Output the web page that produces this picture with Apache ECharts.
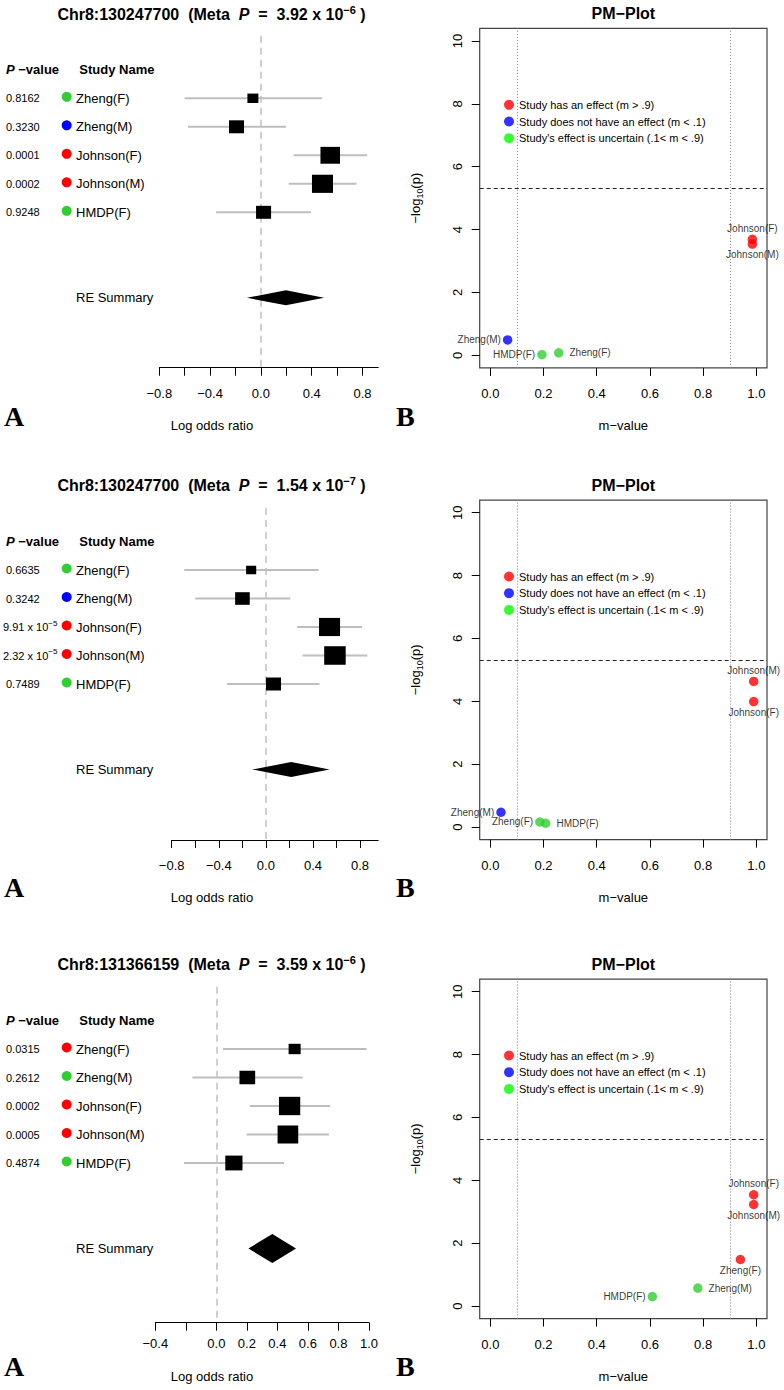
<!DOCTYPE html>
<html><head><meta charset="utf-8">
<script src="https://cdn.jsdelivr.net/npm/echarts@6/dist/echarts.min.js"></script>
<style>html,body{margin:0;padding:0;background:#fff}#c{width:784px;height:1390px}</style>
</head><body><div id="c"></div><script>
// ---------------- DATA ----------------
const studies = ['Zheng(F)', 'Zheng(M)', 'Johnson(F)', 'Johnson(M)', 'HMDP(F)'];

// Panel 1
const snp1 = 'Chr8:130247700';
const metaP1 = '3.92 x 10^-6';
const pLabels1 = ['0.8162', '0.3230', '0.0001', '0.0002', '0.9248'];
const est1 = [-0.063, -0.192, 0.546, 0.485, 0.021];
const ciLow1 = [-0.600, -0.575, 0.257, 0.220, -0.352];
const ciHigh1 = [0.480, 0.197, 0.837, 0.753, 0.394];
const weight1 = [0.51, 0.70, 0.91, 0.98, 0.70];
const reSummary1 = [-0.110, 0.197, 0.498]; // low, est, high
const mValue1 = [0.257, 0.065, 0.985, 0.985, 0.194];
const negLogP1 = [0.08, 0.49, 3.69, 3.54, 0.02];
const forestTicks1 = [-0.8, -0.6, -0.4, -0.2, 0, 0.2, 0.4, 0.6, 0.8];
const forestTickLabels1 = [-0.8, -0.4, 0, 0.4, 0.8];

// Panel 2
const snp2 = 'Chr8:130247700';
const metaP2 = '1.54 x 10^-7';
const pLabels2 = ['0.6635', '0.3242', '9.91 x 10^-5', '2.32 x 10^-5', '0.7489'];
const est2 = [-0.125, -0.199, 0.541, 0.587, 0.065];
const ciLow2 = [-0.693, -0.600, 0.266, 0.312, -0.329];
const ciHigh2 = [0.448, 0.207, 0.817, 0.862, 0.456];
const weight2 = [0.47, 0.68, 0.98, 1.00, 0.70];
const reSummary2 = [-0.114, 0.215, 0.541];
const mValue2 = [0.186, 0.040, 0.990, 0.990, 0.208];
const negLogP2 = [0.16, 0.47, 3.99, 4.63, 0.12];
const forestTicks2 = [-0.8, -0.6, -0.4, -0.2, 0, 0.2, 0.4, 0.6, 0.8];
const forestTickLabels2 = [-0.8, -0.4, 0, 0.4, 0.8];

// Panel 3
const snp3 = 'Chr8:131366159';
const metaP3 = '3.59 x 10^-6';
const pLabels3 = ['0.0315', '0.2612', '0.0002', '0.0005', '0.4874'];
const est3 = [0.513, 0.203, 0.480, 0.469, 0.115];
const ciLow3 = [0.044, -0.157, 0.220, 0.199, -0.212];
const ciHigh3 = [0.985, 0.566, 0.745, 0.738, 0.443];
const weight3 = [0.56, 0.73, 0.99, 0.96, 0.80];
const reSummary3 = [0.210, 0.367, 0.522];
const mValue3 = [0.940, 0.780, 0.990, 0.990, 0.609];
const negLogP3 = [1.48, 0.57, 3.54, 3.23, 0.30];
const forestTicks3 = [-0.4, -0.2, 0, 0.2, 0.4, 0.6, 0.8, 1.0];
const forestTickLabels3 = [-0.4, 0, 0.2, 0.4, 0.6, 0.8, 1.0];

// PM-plot common
const pmTicksX = [0, 0.2, 0.4, 0.6, 0.8, 1.0];
const pmTicksY = [0, 2, 4, 6, 8, 10];
const mThresholds = [0.1, 0.9];
const pmSigLine = 5.3;
const legendLabels = ['Study has an effect (m > .9)', 'Study does not have an effect (m < .1)', "Study's effect is uncertain (.1< m < .9)"];

// ---------------- STYLE / LAYOUT ----------------
const pmLabelPos1 = ['right', 'left', 'top', 'bottom', 'left'];
const pmLabelPos2 = ['left', 'left', 'bottom', 'top', 'right'];
const pmLabelPos3 = ['bottom', 'right', 'top', 'bottom', 'left'];

const FONT = '"Liberation Sans", Arial, Helvetica, sans-serif';
const SERIF = '"Liberation Serif", "Times New Roman", serif';
const GREEN = '#32CD32', RED = '#FF0000', BLUE = '#0000FF', LEG_GREEN = '#00FF00';
function mColor(m) { return m > 0.9 ? RED : (m < 0.1 ? BLUE : GREEN); }
function fmtTick(v) { return (Math.round(v * 10) / 10).toFixed(1).replace('-', '\u2212'); }
function supRich(str, base, sup) {
  const parts = str.split('^');
  if (parts.length === 1) return '{' + base + '|' + str + '}';
  return '{' + base + '|' + parts[0] + '}{' + sup + '|' + parts[1].replace('-', '\u2212') + '}';
}

const ROW1 = 98.3, ROW_GAP = 28.5, BOX_MAX = 21.5, BOX_ASPECT = 1.16;
const P_X = 6, DOT_X = 66.7, NAME_X = 76;

const panels = [
  {off: 0, snp: snp1, meta: metaP1, pl: pLabels1, est: est1, lo: ciLow1, hi: ciHigh1, w: weight1, re: reSummary1, m: mValue1, y: negLogP1,
   ticks: forestTicks1, tickLabels: forestTickLabels1, pos: pmLabelPos1, fx0: 159.3, fxMin: -0.8, fxMax: 0.924, fpx: 127, fTop: 35.7, fBottom: 367.7, dH: 15, lm: 19},
  {off: 471.7, snp: snp2, meta: metaP2, pl: pLabels2, est: est2, lo: ciLow2, hi: ciHigh2, w: weight2, re: reSummary2, m: mValue2, y: negLogP2,
   ticks: forestTicks2, tickLabels: forestTickLabels2, pos: pmLabelPos2, fx0: 171.7, fxMin: -0.8, fxMax: 0.954, fpx: 117.7, fTop: 36.3, fBottom: 368.3, dH: 15, lm: 19},
  {off: 950.7, snp: snp3, meta: metaP3, pl: pLabels3, est: est3, lo: ciLow3, hi: ciHigh3, w: weight3, re: reSummary3, m: mValue3, y: negLogP3,
   ticks: forestTicks3, tickLabels: forestTickLabels3, pos: pmLabelPos3, fx0: 155.3, fxMin: -0.4, fxMax: 1.0, fpx: 152.6, fTop: 36, fBottom: 372, dH: 29, lm: 14}
];

const grid = [], xAxis = [], yAxis = [], series = [], graphic = [], legend = [];

panels.forEach(function (P, k) {
  const gF = 2 * k, gP = 2 * k + 1;
  // ---- forest grid
  grid.push({left: P.fx0, top: P.off + P.fTop, width: (P.fxMax - P.fxMin) * P.fpx, height: P.fBottom - P.fTop, show: false});
  xAxis.push({gridIndex: gF, type: 'value', min: P.fxMin, max: P.fxMax, position: 'bottom',
    axisLine: {show: true, onZero: false, lineStyle: {color: '#000', width: 1}},
    axisTick: {show: true, length: 8, lineStyle: {color: '#000', width: 1}, customValues: P.ticks},
    axisLabel: {customValues: P.tickLabels, formatter: fmtTick, fontSize: 13, fontFamily: FONT, color: '#000', margin: P.lm},
    splitLine: {show: false}});
  yAxis.push({gridIndex: gF, type: 'value', inverse: true, show: false, axisLine: {onZero: false},
    min: 1 + (P.fTop - ROW1) / ROW_GAP, max: 1 + (P.fBottom - ROW1) / ROW_GAP});
  // ---- PM grid
  grid.push({left: 479.7, top: P.off + 28.4, width: 287.3, height: 339.5, show: true, borderColor: '#444', borderWidth: 1.2});
  xAxis.push({gridIndex: gP, type: 'value', min: -0.04, max: 1.04, position: 'bottom',
    axisLine: {show: false, onZero: false},
    axisTick: {show: true, length: 8, lineStyle: {color: '#000'}, customValues: pmTicksX},
    axisLabel: {customValues: pmTicksX, formatter: fmtTick, fontSize: 13, fontFamily: FONT, color: '#000', margin: 19},
    splitLine: {show: false},
    name: 'm\u2212value', nameLocation: 'middle', nameGap: 51,
    nameTextStyle: {fontSize: 13, fontFamily: FONT, color: '#000'}});
  yAxis.push({gridIndex: gP, type: 'value', min: -0.4, max: 10.4, position: 'left',
    axisLine: {show: false, onZero: false},
    axisTick: {show: true, length: 8, lineStyle: {color: '#000'}, customValues: pmTicksY},
    axisLabel: {customValues: pmTicksY, rotate: 90, fontSize: 13, fontFamily: FONT, color: '#000', margin: 16},
    splitLine: {show: false},
    name: '{a|\u2212log}{b|10}{a|(p)}', nameLocation: 'middle', nameGap: 55, nameRotate: 90,
    nameTextStyle: {fontFamily: FONT, color: '#000', rich: {a: {fontSize: 13, fontFamily: FONT, lineHeight: 18}, b: {fontSize: 9, fontFamily: FONT, verticalAlign: 'bottom'}}}});

  // ---- forest: header (also hosts the zero reference line, drawn underneath)
  series.push({type: 'custom', xAxisIndex: gF, yAxisIndex: gF, silent: true, clip: false, z: 1,
    data: [[0, 0]],
    renderItem: function (params, api) {
      const c = api.coord([0, api.value(1)]);
      return {type: 'group', children: [
        {type: 'text', x: P_X, y: c[1], style: {text: '{i|P}{b| \u2212value}', align: 'left', verticalAlign: 'middle',
          rich: {i: {fontSize: 13, fontWeight: 'bold', fontStyle: 'italic', fontFamily: FONT, fill: '#000'}, b: {fontSize: 13, fontWeight: 'bold', fontFamily: FONT, fill: '#000'}}}},
        {type: 'text', x: NAME_X + 3.3, y: c[1], style: {text: 'Study Name', align: 'left', verticalAlign: 'middle', fontSize: 13, fontWeight: 'bold', fontFamily: FONT, fill: '#000'}}
      ]};
    },
    markLine: {silent: true, z: 1, symbol: ['none', 'none'], label: {show: false},
      lineStyle: {color: '#D0D0D0', type: [7, 5], width: 2}, data: [{xAxis: 0}]}});
  // ---- forest: studies
  series.push({type: 'custom', xAxisIndex: gF, yAxisIndex: gF, silent: true, clip: false, z: 10,
    data: studies.map(function (s, i) { return [P.est[i], i + 1, P.lo[i], P.hi[i], P.w[i]]; }),
    encode: {x: [0, 2, 3], y: 1},
    renderItem: function (params, api) {
      const i = params.dataIndex;
      const row = api.value(1);
      const c = api.coord([api.value(0), row]);
      const cl = api.coord([api.value(2), row]);
      const ch = api.coord([api.value(3), row]);
      const s = api.value(4) * BOX_MAX, h = s / BOX_ASPECT;
      return {type: 'group', children: [
        {type: 'line', shape: {x1: cl[0], y1: c[1], x2: ch[0], y2: c[1]}, style: {stroke: '#BEBEBE', lineWidth: 2}},
        {type: 'rect', shape: {x: c[0] - s / 2, y: c[1] - h / 2, width: s, height: h}, style: {fill: '#000'}},
        {type: 'text', x: P.pl[i].indexOf('^') >= 0 ? 3 : P_X, y: c[1], style: {text: supRich(P.pl[i], 't', 's'), align: 'left', verticalAlign: 'middle',
          rich: {t: {fontSize: 11, fontFamily: FONT, fill: '#000', lineHeight: 16}, s: {fontSize: 8, fontFamily: FONT, fill: '#000', verticalAlign: 'top'}}}},
        {type: 'circle', shape: {cx: DOT_X, cy: c[1] - 1.5, r: 5}, style: {fill: mColor(P.m[i])}},
        {type: 'text', x: NAME_X, y: c[1], style: {text: studies[i], align: 'left', verticalAlign: 'middle', fontSize: 13, fontFamily: FONT, fill: '#000'}}
      ]};
    }});
  // ---- forest: RE summary
  series.push({type: 'custom', xAxisIndex: gF, yAxisIndex: gF, silent: true, clip: false, z: 10,
    data: [[P.re[1], 8, P.re[0], P.re[2]]],
    encode: {x: [0, 2, 3], y: 1},
    renderItem: function (params, api) {
      const row = api.value(1);
      const c = api.coord([api.value(0), row]);
      const cl = api.coord([api.value(2), row]);
      const ch = api.coord([api.value(3), row]);
      const hh = P.dH / 2;
      return {type: 'group', children: [
        {type: 'polygon', shape: {points: [[cl[0], c[1]], [c[0], c[1] - hh], [ch[0], c[1]], [c[0], c[1] + hh]]}, style: {fill: '#000'}},
        {type: 'text', x: NAME_X, y: c[1], style: {text: 'RE Summary', align: 'left', verticalAlign: 'middle', fontSize: 13, fontFamily: FONT, fill: '#000'}}
      ]};
    }});

  // ---- PM scatter
  series.push({type: 'scatter', xAxisIndex: gP, yAxisIndex: gP, silent: true, symbolSize: 9.5, z: 10,
    data: studies.map(function (s, i) {
      const pos = P.pos[i];
      return {name: s, value: [P.m[i], P.y[i]], itemStyle: {color: mColor(P.m[i])},
        label: {position: pos, distance: pos === 'right' ? 6 : (pos === 'left' ? 2 : 1)}};
    }),
    label: {show: true, formatter: '{b}', fontSize: 10, fontFamily: FONT, color: '#000'},
    markLine: {silent: true, z: 1, symbol: ['none', 'none'], label: {show: false},
      data: [
        {xAxis: mThresholds[0], lineStyle: {color: '#888', type: [1, 2], width: 1}},
        {xAxis: mThresholds[1], lineStyle: {color: '#888', type: [1, 2], width: 1}},
        {yAxis: pmSigLine, lineStyle: {color: '#222', type: [4, 3], width: 1}}
      ]}});

  legend.push({show: true, orient: 'vertical', left: 504, top: P.off + 99.3, padding: 0, itemGap: 5.7,
    itemWidth: 10, itemHeight: 10, icon: 'circle', selectedMode: false, data: legendLabels,
    textStyle: {fontSize: 11, fontFamily: FONT, color: '#000'}});

  // ---- titles & panel letters
  graphic.push({type: 'text', x: 211.5, y: P.off + 14, style: {
    text: '{b|' + P.snp + '  (Meta  }{i|P}{b|  =  ' + P.meta.split('^')[0] + '}{s|' + P.meta.split('^')[1].replace('-', '\u2212') + '}{b| )}',
    align: 'center', verticalAlign: 'middle',
    rich: {b: {fontSize: 16, fontWeight: 'bold', fontFamily: FONT, fill: '#000', lineHeight: 20},
           i: {fontSize: 16, fontWeight: 'bold', fontStyle: 'italic', fontFamily: FONT, fill: '#000', lineHeight: 20},
           s: {fontSize: 11, fontWeight: 'bold', fontFamily: FONT, fill: '#000', verticalAlign: 'top'}}}});
  graphic.push({type: 'text', x: 623.4, y: P.off + 13.3, style: {text: 'PM\u2212Plot', align: 'center', verticalAlign: 'middle', fontSize: 16, fontWeight: 'bold', fontFamily: FONT, fill: '#000'}});
  graphic.push({type: 'text', x: 212, y: P.off + 425.7, style: {text: 'Log odds ratio', align: 'center', verticalAlign: 'middle', fontSize: 13, fontFamily: FONT, fill: '#000'}});
  graphic.push({type: 'text', x: 4, y: P.off + 416, style: {text: 'A', align: 'left', verticalAlign: 'middle', fontSize: 28, fontWeight: 'bold', fontFamily: SERIF, fill: '#000'}});
  graphic.push({type: 'text', x: 396, y: P.off + 416, style: {text: 'B', align: 'left', verticalAlign: 'middle', fontSize: 28, fontWeight: 'bold', fontFamily: SERIF, fill: '#000'}});
});

// legend swatch series (no data)
[RED, BLUE, LEG_GREEN].forEach(function (col, i) {
  series.push({type: 'scatter', name: legendLabels[i], xAxisIndex: 1, yAxisIndex: 1, data: [], itemStyle: {color: col}});
});

const chart = echarts.init(document.getElementById('c'), null, {renderer: 'svg', width: 784, height: 1390});
chart.setOption({animation: false, backgroundColor: '#fff', grid: grid, xAxis: xAxis, yAxis: yAxis, series: series, legend: legend, graphic: graphic});
</script></body></html>
